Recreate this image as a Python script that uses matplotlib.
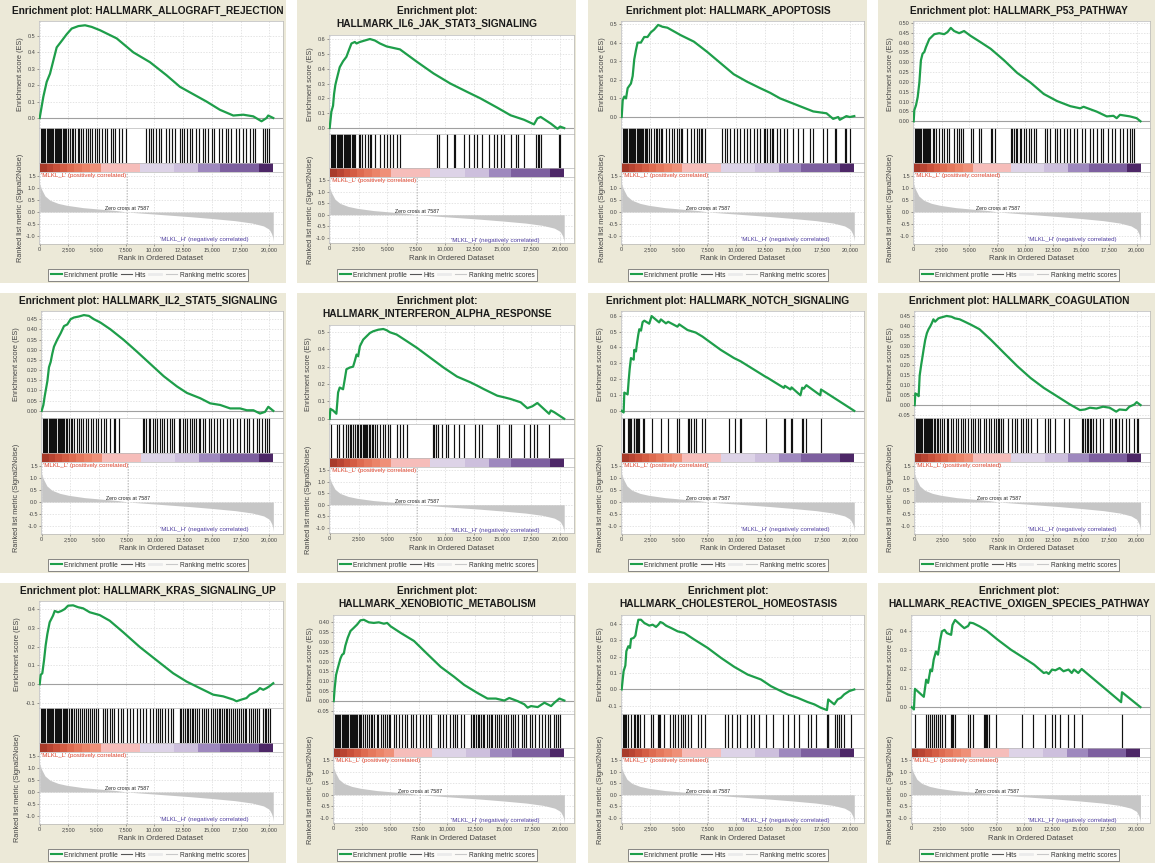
import matplotlib
matplotlib.use('Agg')
import matplotlib.pyplot as plt
from matplotlib.patches import Rectangle
from matplotlib.lines import Line2D
from matplotlib.ticker import MultipleLocator, FormatStrFormatter, FuncFormatter, FixedLocator

plt.rcParams['font.family'] = ['Liberation Sans', 'DejaVu Sans']
plt.rcParams['axes.unicode_minus'] = False

# ---------------- data ----------------
N_GENES = 20350
ZERO_CROSS = 7587
X_TICKS = [0, 2500, 5000, 7500, 10000, 12500, 15000, 17500, 20000]
METRIC_TICKS = [-1.0, -0.5, 0.0, 0.5, 1.0, 1.5]

METRIC_RANK = [0, 50, 170, 460, 900, 1600, 2350, 3800, 5250, 6700, 7587, 9000, 11000,
               13000, 15000, 17000, 18500, 19500, 20000, 20200, 20300, 20350]
METRIC_VALUE = [1.2, 1.1, 0.94, 0.67, 0.49, 0.36, 0.28, 0.18, 0.12, 0.06, 0.0, -0.05, -0.12,
                -0.19, -0.27, -0.36, -0.46, -0.58, -0.72, -0.9, -1.05, -1.22]

CBAR_EDGES = [0, 600, 1200, 1800, 2400, 3000, 3700, 4400, 5300, 8700, 11700, 13800, 15700, 19100, 20350]
CBAR_COLORS = ['#A83A2A', '#B94432', '#C9503A', '#D45D44', '#DE6B50', '#E5785C', '#EB8468',
               '#EF9078', '#F6BDBA', '#DDD3E7', '#CDBFDD', '#9E88BE', '#7D5F9F', '#4D2767']

TITLES = ['HALLMARK_ALLOGRAFT_REJECTION', 'HALLMARK_IL6_JAK_STAT3_SIGNALING', 'HALLMARK_APOPTOSIS',
          'HALLMARK_P53_PATHWAY', 'HALLMARK_IL2_STAT5_SIGNALING', 'HALLMARK_INTERFERON_ALPHA_RESPONSE',
          'HALLMARK_NOTCH_SIGNALING', 'HALLMARK_COAGULATION', 'HALLMARK_KRAS_SIGNALING_UP',
          'HALLMARK_XENOBIOTIC_METABOLISM', 'HALLMARK_CHOLESTEROL_HOMEOSTASIS',
          'HALLMARK_REACTIVE_OXIGEN_SPECIES_PATHWAY']

ES_RANK_ALLOGRAFT = [0, 320, 610, 900, 1190, 1480, 1920, 2350, 2790, 3370, 3950, 4530, 5250, 6710, 8160,
                     9610, 11060, 12220, 13380, 14540, 15700, 16870, 17740, 18610, 19330, 19770, 19910, 20350]
ES_ALLOGRAFT = [0, 0.13, 0.22, 0.27, 0.35, 0.43, 0.47, 0.51, 0.545, 0.56, 0.565, 0.555, 0.535, 0.485, 0.40,
                0.34, 0.26, 0.19, 0.145, 0.10, 0.05, 0.015, 0.02, 0.01, -0.02, 0.0, 0.015, 0.0]
HITS_ALLOGRAFT = [100, 200, 300, 400, 500, 600, 700, 800, 900, 1000, 1100, 1200, 1300, 1400, 1500, 1600,
                  1700, 1800, 1900, 2000, 2100, 2200, 2300, 2500, 2600, 2800, 2900, 3100, 3300, 3400, 3600,
                  3800, 4000, 4200, 4400, 4600, 4800, 5000, 5200, 5400, 5700, 5900, 6200, 6400, 6600, 6900,
                  7200, 7500, 9300, 9500, 9700, 9900, 10100, 10400, 10600, 11000, 11300, 11500, 11800,
                  12200, 12400, 12600, 12800, 13100, 13300, 13600, 13900, 14200, 14400, 14700, 15000,
                  15200, 15600, 15900, 16200, 16400, 16700, 17100, 17400, 17700, 18000, 18300, 18600,
                  18800, 19500, 19600, 19800, 20000]

ES_RANK_IL6 = [0, 145, 290, 380, 490, 580, 870, 1160, 1450, 1690, 1890, 2180, 2330, 2620, 3050, 3490, 3920,
               4360, 4940, 5520, 6100, 7560, 9010, 10470, 11920, 13080, 14530, 15700, 16860, 17730, 18020,
               18310, 19190, 19770, 20000, 20350]
ES_IL6 = [0, 0.11, 0.15, 0.23, 0.29, 0.32, 0.41, 0.45, 0.48, 0.53, 0.57, 0.58, 0.57, 0.58, 0.59, 0.60, 0.59,
          0.57, 0.55, 0.54, 0.53, 0.447, 0.368, 0.30, 0.244, 0.20, 0.138, 0.086, 0.056, 0.025, 0.065,
          0.075, 0.03, -0.005, 0.01, 0.0]
HITS_IL6 = [100, 200, 300, 400, 500, 600, 700, 800, 900, 1000, 1100, 1200, 1300, 1400, 1500, 1600, 1700,
            1800, 1900, 2000, 2100, 2200, 2500, 2600, 2800, 3050, 3300, 3500, 3600, 3900, 4400, 4700, 5000,
            5200, 5500, 5800, 6100, 9300, 9500, 10200, 10750, 10900, 11650, 12050, 12500, 12800, 13200,
            13800, 14250, 14550, 14850, 15100, 15700, 16150, 16300, 16850, 17900, 18050, 18200, 18350,
            19900, 20000]

ES_RANK_APOPTOSIS = [0, 90, 230, 380, 520, 810, 960, 1100, 1250, 1390, 1680, 1970, 2260, 2550, 2840, 3190,
                     3570, 4000, 4580, 5160, 6320, 7480, 8640, 9800, 10960, 12120, 12990, 13860, 15310,
                     16760, 17920, 18500, 18940, 19080, 19370, 19660, 19950, 20350]
ES_APOPTOSIS = [0, 0.09, 0.11, 0.10, 0.155, 0.18, 0.22, 0.31, 0.36, 0.40, 0.40, 0.43, 0.43, 0.455, 0.47,
                0.495, 0.485, 0.48, 0.46, 0.44, 0.405, 0.35, 0.29, 0.23, 0.19, 0.155, 0.13, 0.10, 0.065,
                0.03, 0.02, -0.01, 0.0, -0.015, -0.005, 0.005, 0.0, 0.005]
HITS_APOPTOSIS = [100, 200, 300, 400, 500, 600, 700, 800, 900, 1000, 1100, 1200, 1300, 1400, 1500, 1600,
                  1700, 1800, 1900, 2000, 2100, 2200, 2410, 2550, 2840, 2990, 3130, 3280, 3420, 3570, 3860,
                  4150, 4440, 4580, 4870, 5020, 5160, 5310, 5740, 6030, 6320, 6610, 6760, 6900, 7050, 7250,
                  8790, 9080, 9220, 9510, 9800, 10090, 10380, 10670, 10960, 11250, 11540, 11830, 12120,
                  12410, 12560, 12700, 12990, 13140, 13280, 13570, 13860, 14210, 14440, 15020, 15460,
                  15890, 16470, 16760, 17630, 17920, 18650, 18790, 19520, 19660, 19950]

ES_RANK_P53 = [0, 60, 210, 360, 510, 650, 800, 950, 1100, 1400, 1850, 2290, 2740, 3040, 3330, 3630, 4080,
               4520, 5120, 6010, 6900, 8090, 9290, 10480, 11670, 12860, 14050, 14940, 15240, 16430, 17320,
               17920, 18210, 18510, 19400, 20000, 20350]
ES_P53 = [0, 0.057, 0.082, 0.123, 0.197, 0.31, 0.344, 0.352, 0.377, 0.418, 0.443, 0.448, 0.443, 0.454,
          0.475, 0.459, 0.448, 0.459, 0.434, 0.402, 0.369, 0.311, 0.246, 0.197, 0.139, 0.103, 0.077, 0.066,
          0.074, 0.049, 0.025, 0.028, 0.016, 0.033, 0.025, 0.016, 0.0]
HITS_P53 = [100, 200, 300, 400, 500, 600, 700, 800, 900, 1000, 1100, 1200, 1300, 1400, 1500, 1700, 1850,
            1990, 2290, 2500, 2740, 2980, 3180, 3630, 3870, 4080, 4230, 4460, 5120, 5360, 5860, 6010, 6900,
            7050, 7260, 8690, 8840, 8990, 9140, 9290, 9520, 9640, 9880, 10120, 10330, 10540, 10770,
            11010, 11810, 11960, 12260, 12710, 12860, 13150, 13450, 13750, 14050, 14340, 14640, 15090,
            15390, 15830, 16130, 16430, 16790, 17020, 17470, 17770, 18060, 18510, 18810, 19110, 19400,
            19550, 19760]

ES_RANK_IL2 = [0, 150, 260, 500, 640, 790, 930, 1080, 1370, 1660, 1960, 2250, 2540, 2830, 3270, 3710, 4150,
               4580, 5170, 6040, 7210, 8380, 9550, 10720, 11880, 12760, 13930, 14800, 15680, 16560, 17430,
               18020, 18600, 19180, 19620, 19910, 20350]
ES_IL2 = [0, 0.029, 0.07, 0.146, 0.214, 0.24, 0.28, 0.315, 0.35, 0.38, 0.416, 0.424, 0.45, 0.458, 0.463,
          0.47, 0.466, 0.45, 0.433, 0.40, 0.348, 0.29, 0.23, 0.17, 0.12, 0.088, 0.062, 0.037, 0.029, 0.012,
          0.012, 0.003, 0.003, -0.013, -0.005, 0.02, 0.0]
HITS_IL2 = [100, 200, 300, 400, 500, 600, 700, 800, 900, 1000, 1100, 1200, 1300, 1400, 1500, 1600, 1700,
            1800, 1900, 2000, 2100, 2200, 2390, 2540, 2690, 2830, 3070, 3270, 3420, 3650, 3850, 4060, 4290,
            4530, 4730, 4930, 5170, 5460, 5690, 6040, 6330, 6480, 6770, 8910, 9020, 9200, 9400, 9550,
            9780, 9990, 10130, 10370, 10570, 10770, 11010, 11240, 11450, 11590, 12030, 12180, 12410,
            12610, 12760, 12990, 13200, 13340, 13580, 13780, 13930, 14160, 14370, 14660, 14860, 15100,
            15390, 15680, 15970, 16260, 16560, 16850, 17140, 17430, 17730, 18020, 18250, 18600, 18890,
            19130, 19330, 19620, 19770, 20000]

ES_RANK_IFNA = [0, 60, 290, 580, 730, 870, 1160, 1310, 1450, 1740, 2030, 2180, 2330, 2470, 2620, 2910, 3200,
                3490, 3780, 4220, 4650, 4940, 5230, 5810, 6690, 7560, 8720, 9880, 11050, 12210, 12940,
                13370, 14540, 15120, 15700, 16570, 17150, 17590, 18020, 19040, 19190, 19480, 20350]
ES_IFNA = [0, 0.057, 0.048, 0.029, 0.152, 0.18, 0.17, 0.228, 0.285, 0.295, 0.30, 0.333, 0.37, 0.36, 0.418,
           0.456, 0.475, 0.494, 0.504, 0.513, 0.517, 0.51, 0.498, 0.485, 0.447, 0.409, 0.352, 0.295, 0.243,
           0.21, 0.186, 0.171, 0.133, 0.124, 0.114, 0.095, 0.061, 0.072, 0.091, 0.029, 0.048, 0.038, 0.0]
HITS_IFNA = [150, 670, 780, 1160, 1400, 1600, 1740, 1890, 2030, 2180, 2330, 2470, 2620, 2700, 2850, 2970,
             3050, 3140, 3260, 3370, 3490, 3630, 3780, 3920, 4130, 4360, 4590, 4800, 5030, 5230, 5810,
             6100, 6400, 6690, 8950, 9070, 9190, 9360, 9740, 10120, 10230, 10760, 11190, 11630, 12590,
             12940, 13230, 14540, 14680, 15550, 15760, 16860, 17380, 17730, 18020, 19040]

ES_RANK_NOTCH = [0, 170, 230, 520, 610, 700, 810, 1050, 1100, 1250, 1340, 1450, 1540, 1690, 1830, 1980,
                 2410, 2620, 3280, 3430, 3870, 4070, 4880, 5030, 5760, 6480, 7060, 8660, 9830, 10410,
                 12590, 12730, 14190, 14270, 14770, 14860, 15640, 15790, 15930, 16160, 17380, 17440, 20350]
ES_NOTCH = [0, -0.01, 0.115, 0.104, 0.19, 0.265, 0.333, 0.323, 0.385, 0.375, 0.427, 0.48, 0.515, 0.506,
            0.56, 0.569, 0.55, 0.598, 0.558, 0.577, 0.552, 0.562, 0.531, 0.546, 0.51, 0.494, 0.469, 0.385,
            0.333, 0.3125, 0.215, 0.21, 0.145, 0.158, 0.135, 0.148, 0.098, 0.146, 0.14, 0.162, 0.098,
            0.135, 0.0]
HITS_NOTCH = [90, 230, 520, 610, 730, 810, 1050, 1100, 1250, 1340, 1450, 1540, 1830, 1980, 2620, 3430,
              4070, 4880, 5030, 5760, 5900, 6050, 6340, 6480, 7060, 7270, 9390, 9880, 10350, 10410, 12590,
              14190, 14270, 14770, 14860, 15790, 15870, 16160, 17440]

ES_RANK_COAG = [0, 60, 210, 360, 450, 590, 710, 800, 950, 1100, 1250, 1390, 1540, 1690, 1840, 2140, 2430,
                2880, 3320, 3620, 4060, 4510, 5100, 5840, 6880, 8070, 9260, 10440, 11630, 12820, 14000,
                14890, 15340, 15780, 16380, 16970, 17560, 18160, 18450, 19050, 19340, 19790, 20000, 20350]
ES_COAG = [0, 0.059, 0.054, 0.045, 0.149, 0.204, 0.246, 0.279, 0.329, 0.363, 0.383, 0.396, 0.413, 0.433,
           0.421, 0.438, 0.443, 0.45, 0.446, 0.438, 0.433, 0.421, 0.405, 0.383, 0.329, 0.262, 0.196, 0.137,
           0.087, 0.045, 0.003, -0.025, -0.022, -0.013, -0.017, -0.008, -0.013, -0.033, -0.022, -0.025,
           -0.008, 0.003, 0.015, 0.0]
HITS_COAG = [100, 200, 300, 400, 500, 600, 700, 800, 900, 1000, 1100, 1200, 1300, 1400, 1500, 1600, 1700,
             1840, 1990, 2140, 2280, 2490, 2670, 2880, 3030, 3260, 3470, 3680, 3920, 4150, 4360, 4510,
             4810, 5040, 5250, 5460, 5700, 5930, 6230, 6440, 6740, 6880, 7180, 7330, 7480, 7620, 7770,
             7920, 8370, 8810, 9020, 9260, 9550, 9790, 10000, 10210, 10440, 11040, 11780, 11990, 12220,
             12670, 13410, 13860, 15040, 15190, 15340, 15490, 15630, 15780, 15930, 16080, 16380, 16680,
             16970, 17560, 17800, 18010, 18160, 18450, 18690, 19050, 19340, 19790, 20000, 20090]

ES_RANK_KRAS = [0, 90, 230, 380, 520, 670, 870, 1160, 1310, 1600, 1890, 2180, 2470, 2910, 3340, 3780, 4360,
                5230, 6100, 7270, 8720, 10170, 11630, 12790, 13950, 15120, 15990, 16860, 17150, 17590,
                18020, 18310, 18900, 19190, 19480, 19770, 20000, 20350]
ES_KRAS = [0, 0.05, 0.058, 0.128, 0.207, 0.268, 0.33, 0.365, 0.39, 0.383, 0.39, 0.40, 0.418, 0.42, 0.41,
           0.404, 0.383, 0.368, 0.338, 0.277, 0.198, 0.128, 0.058, 0.014, -0.021, -0.056, -0.065, -0.082,
           -0.091, -0.082, -0.074, -0.056, -0.039, -0.021, -0.03, -0.021, -0.012, 0.005]
HITS_KRAS = [100, 200, 300, 400, 500, 600, 700, 800, 900, 1000, 1100, 1200, 1300, 1400, 1500, 1600, 1700,
             1800, 1900, 2000, 2100, 2200, 2300, 2400, 2550, 2700, 2850, 3000, 3200, 3350, 3500, 3700, 3850,
             4000, 4200, 4400, 4550, 4750, 4900, 5100, 5500, 5700, 5900, 6100, 6300, 6500, 6800, 7100,
             7300, 7600, 7900, 8100, 8450, 8700, 9000, 9300, 9600, 9900, 10100, 10300, 10500, 10700,
             10900, 11200, 11400, 11600, 12200, 12350, 12500, 12650, 12800, 12950, 13100, 13250, 13400,
             13550, 13700, 13900, 14100, 14300, 14500, 14700, 14900, 15100, 15300, 15450, 15600, 15750,
             15900, 16050, 16200, 16350, 16500, 16700, 16850, 17000, 17200, 17350, 17500, 17700, 17850,
             18000, 18200, 18400, 18550, 18750, 18900, 19100, 19450, 19600, 19750, 19900, 20100]

ES_RANK_XENO = [0, 90, 210, 350, 590, 740, 890, 1030, 1240, 1480, 1770, 2070, 2360, 2660, 3100, 3540, 3980,
                4430, 4720, 5020, 5900, 7080, 8260, 9440, 10620, 11510, 12690, 13570, 14310, 15050, 15490,
                16230, 16820, 17110, 17410, 18000, 18590, 19180, 19470, 19910, 20350]
ES_XENO = [0, 0.066, 0.132, 0.164, 0.214, 0.234, 0.24, 0.28, 0.32, 0.354, 0.37, 0.387, 0.408, 0.411, 0.398,
           0.395, 0.398, 0.391, 0.395, 0.378, 0.345, 0.304, 0.238, 0.173, 0.123, 0.082, 0.041, 0.013, 0.013,
           0.003, 0.016, 0.0, -0.016, -0.033, -0.025, -0.03, -0.008, -0.025, -0.008, 0.013, 0.003]
HITS_XENO = [100, 200, 300, 400, 500, 600, 700, 800, 900, 1000, 1100, 1200, 1300, 1400, 1500, 1600, 1700,
             1800, 1900, 2000, 2100, 2200, 2300, 2400, 2600, 2750, 2900, 3100, 3250, 3400, 3600, 3800,
             3950, 4150, 4350, 4500, 4700, 4850, 5000, 5300, 5500, 5800, 6000, 6300, 6500, 6800, 7000,
             7300, 7600, 7900, 8100, 8400, 8600, 9200, 9400, 9600, 9900, 10300, 10500, 10700, 10900,
             11200, 11500, 12100, 12250, 12400, 12550, 12700, 12850, 13000, 13150, 13300, 13500, 13700,
             13850, 14000, 14200, 14400, 14600, 14800, 15000, 15200, 15400, 15600, 15800, 16000, 16300,
             16600, 16800, 17000, 17300, 17500, 17800, 18100, 18400, 18600, 18900, 19100, 19400, 19600,
             19800, 20000]

ES_RANK_CHOL = [0, 90, 170, 320, 410, 580, 730, 820, 1050, 1200, 1340, 1460, 1690, 1980, 2420, 2710, 3000,
                3210, 3380, 3590, 3880, 4310, 4900, 5480, 6350, 7520, 8690, 9850, 11020, 12180, 13060,
                13930, 14520, 15390, 16270, 16850, 17430, 17960, 18070, 18600, 18890, 19180, 19470, 19910,
                20350]
ES_CHOL = [0, 0.061, 0.112, 0.146, 0.234, 0.264, 0.254, 0.309, 0.315, 0.329, 0.386, 0.426, 0.426, 0.406,
           0.39, 0.396, 0.382, 0.396, 0.412, 0.406, 0.39, 0.376, 0.355, 0.345, 0.305, 0.254, 0.193, 0.138,
           0.091, 0.061, 0.02, -0.01, -0.03, -0.051, -0.077, -0.091, -0.112, -0.126, -0.061, -0.091,
           -0.061, -0.051, -0.03, -0.01, 0.0]
HITS_CHOL = [90, 170, 320, 410, 580, 820, 1050, 1200, 1340, 1460, 1630, 1980, 2570, 2710, 3210, 3290, 3380,
             3730, 4260, 4460, 4690, 4900, 5190, 5330, 5540, 5770, 6060, 6700, 6940, 7290, 9040, 9270,
             9620, 10090, 10380, 10960, 11310, 11600, 12040, 12620, 13210, 14080, 14520, 15100, 15540,
             16270, 16560, 17000, 17960, 18010, 18070, 18660, 18830, 19030, 19180, 19470, 20060]

ES_RANK_ROS = [0, 200, 290, 1080, 1290, 1460, 1670, 1810, 1960, 2160, 2340, 2540, 2690, 2920, 3130, 3510,
               3630, 3860, 4440, 4680, 5030, 5180, 5470, 6050, 6640, 7660, 8830, 10000, 10880, 11750, 11990,
               12190, 12490, 12780, 13160, 13510, 13950, 14240, 14440, 14820, 15120, 18630, 18710, 20350]
ES_ROS = [0, -0.012, 0.096, 0.054, 0.144, 0.127, 0.197, 0.188, 0.249, 0.292, 0.275, 0.353, 0.397, 0.405,
          0.388, 0.379, 0.431, 0.457, 0.426, 0.414, 0.426, 0.443, 0.44, 0.423, 0.402, 0.353, 0.301, 0.257,
          0.223, 0.179, 0.183, 0.174, 0.197, 0.193, 0.205, 0.188, 0.197, 0.179, 0.197, 0.179, 0.2, 0.026,
          0.078, 0.0]
HITS_ROS = [290, 1290, 1460, 1670, 1810, 1960, 2160, 2340, 2540, 2690, 2920, 3510, 3630, 3710, 3860, 5030,
            5180, 5470, 6430, 6550, 6640, 6730, 6840, 7510, 9850, 10820, 11900, 12490, 12780, 13160, 13950,
            14440, 15120, 18710]

SERIES = [(ES_RANK_ALLOGRAFT, ES_ALLOGRAFT, HITS_ALLOGRAFT), (ES_RANK_IL6, ES_IL6, HITS_IL6),
          (ES_RANK_APOPTOSIS, ES_APOPTOSIS, HITS_APOPTOSIS), (ES_RANK_P53, ES_P53, HITS_P53),
          (ES_RANK_IL2, ES_IL2, HITS_IL2), (ES_RANK_IFNA, ES_IFNA, HITS_IFNA),
          (ES_RANK_NOTCH, ES_NOTCH, HITS_NOTCH), (ES_RANK_COAG, ES_COAG, HITS_COAG),
          (ES_RANK_KRAS, ES_KRAS, HITS_KRAS), (ES_RANK_XENO, ES_XENO, HITS_XENO),
          (ES_RANK_CHOL, ES_CHOL, HITS_CHOL), (ES_RANK_ROS, ES_ROS, HITS_ROS)]

# ---------------- layout (pixels) ----------------
W, H = 1155, 863
BEIGE = '#ECE9D8'
GREEN = '#1E9E4A'
COL_BOUNDS = [(0, 286), (297, 576), (588, 867), (878, 1160)]
COL_CENTER = [148, 437, 728, 1019]
ROW_TOPS = [0, 290, 580]
# per panel: left, right, two-line title, ES ylim, tick step, decimals, ylabel offset
LAYOUT = [
    dict(left=39, right=283, two=False, ylim=(-0.061, 0.591), step=0.1, dec=1, off=18),
    dict(left=329, right=574, two=True, ylim=(-0.04, 0.627), step=0.1, dec=1, off=19),
    dict(left=621, right=864, two=False, ylim=(-0.059, 0.516), step=0.1, dec=1, off=19),
    dict(left=913, right=1150, two=False, ylim=(-0.034, 0.51), step=0.05, dec=2, off=23),
    dict(left=41, right=283, two=False, ylim=(-0.035, 0.49), step=0.05, dec=2, off=24),
    dict(left=329, right=574, two=True, ylim=(-0.03, 0.54), step=0.1, dec=1, off=20),
    dict(left=621, right=864, two=False, ylim=(-0.045, 0.63), step=0.1, dec=1, off=20),
    dict(left=914, right=1150, two=False, ylim=(-0.065, 0.475), step=0.05, dec=2, off=24),
    dict(left=39, right=283, two=False, ylim=(-0.127, 0.443), step=0.1, dec=1, off=21),
    dict(left=333, right=574, two=True, ylim=(-0.065, 0.435), step=0.05, dec=2, off=23),
    dict(left=621, right=864, two=True, ylim=(-0.15, 0.455), step=0.1, dec=1, off=21),
    dict(left=911, right=1150, two=True, ylim=(-0.036, 0.483), step=0.1, dec=1, off=21),
]
V1 = dict(es_top=21, es_bot=128, hit_bot=163, cb_bot=172, m_bot=244, mlim=(-1.333, 1.667))
V2 = dict(es_top=35, es_bot=134, hit_bot=168, cb_bot=177, m_bot=243, mlim=(-1.22, 1.63))
XLIM = (-60, 21200)

fig = plt.figure(figsize=(W / 100, H / 100), dpi=100)
fig.patch.set_facecolor('white')


def ax_px(left, top, width, height):
    return fig.add_axes([left / W, 1 - (top + height) / H, width / W, height / H])


def style(ax):
    ax.set_facecolor('white')
    for s in ax.spines.values():
        s.set_color('#B8B8B8')
        s.set_linewidth(0.5)
    ax.tick_params(labelsize=4, colors='#555555', labelcolor='#444444', length=1.5, width=0.4, pad=0.8)


GRID = dict(color='#D9D9D9', linestyle=(0, (2, 2)), linewidth=0.5)

for i, (ranks, es, hits) in enumerate(SERIES):
    L = LAYOUT[i]
    row, col = i // 4, i % 4
    r0 = ROW_TOPS[row]
    v = V2 if L['two'] else V1
    c0, c1 = COL_BOUNDS[col]
    top = 0 if row == 0 else r0 + 3
    fig.add_artist(Rectangle((c0 / W, 1 - (r0 + 283) / H), (c1 - c0) / W, (r0 + 283 - top) / H,
                             transform=fig.transFigure, facecolor=BEIGE, edgecolor='none', zorder=-10))
    cx = COL_CENTER[col]
    # titles
    if L['two']:
        fig.text(cx / W, 1 - (r0 + 11) / H, 'Enrichment plot:', ha='center', va='center',
                 fontsize=7.3, fontweight='bold', color='#1A1A1A')
        fig.text(cx / W, 1 - (r0 + 24) / H, TITLES[i], ha='center', va='center',
                 fontsize=7.3, fontweight='bold', color='#1A1A1A')
    else:
        fig.text(cx / W, 1 - (r0 + 11) / H, 'Enrichment plot: ' + TITLES[i], ha='center', va='center',
                 fontsize=7.3, fontweight='bold', color='#1A1A1A')

    left, right = L['left'], L['right']
    w = right - left
    ax_es = ax_px(left, r0 + v['es_top'], w, v['es_bot'] - v['es_top'])
    ax_hit = ax_px(left, r0 + v['es_bot'], w, v['hit_bot'] - v['es_bot'])
    ax_cb = ax_px(left, r0 + v['hit_bot'], w, v['cb_bot'] - v['hit_bot'])
    ax_m = ax_px(left, r0 + v['cb_bot'], w, v['m_bot'] - v['cb_bot'])
    for a in (ax_es, ax_hit, ax_cb, ax_m):
        style(a)
        a.set_xlim(*XLIM)

    # ES panel
    ax_es.set_ylim(*L['ylim'])
    ax_es.yaxis.set_major_locator(MultipleLocator(L['step']))
    ax_es.yaxis.set_major_formatter(FormatStrFormatter('%.' + str(L['dec']) + 'f'))
    ax_es.xaxis.set_major_locator(FixedLocator(X_TICKS))
    ax_es.tick_params(axis='x', length=0, labelbottom=False)
    ax_es.grid(True, **GRID)
    ax_es.set_axisbelow(True)
    ax_es.axhline(0, color='#A0A0A0', lw=0.8, zorder=2)
    ax_es.plot(ranks, es, color=GREEN, lw=1.6, zorder=3, solid_joinstyle='round')

    # hits
    ax_hit.set_ylim(0, 1)
    ax_hit.vlines(hits, 0, 1, color='#111111', lw=0.85)
    ax_hit.set_xticks([])
    ax_hit.set_yticks([])

    # colour bar
    ax_cb.set_ylim(0, 1)
    for j, colr in enumerate(CBAR_COLORS):
        ax_cb.axvspan(CBAR_EDGES[j], CBAR_EDGES[j + 1], color=colr, lw=0)
    ax_cb.set_xticks([])
    ax_cb.set_yticks([])

    # ranked metric
    ax_m.set_ylim(*v['mlim'])
    ax_m.yaxis.set_major_locator(FixedLocator(METRIC_TICKS))
    ax_m.yaxis.set_major_formatter(FormatStrFormatter('%.1f'))
    ax_m.xaxis.set_major_locator(FixedLocator(X_TICKS))
    ax_m.xaxis.set_major_formatter(FuncFormatter(lambda val, pos: '{:,}'.format(int(val))))
    ax_m.grid(True, **GRID)
    ax_m.set_axisbelow(True)
    ax_m.fill_between(METRIC_RANK, 0, METRIC_VALUE, color='#C6C6C6', lw=0, zorder=2)
    ax_m.axvline(ZERO_CROSS, color='#A8A8A8', lw=0.5, linestyle=(0, (2, 2)), zorder=3)
    ax_m.text(ZERO_CROSS, 0.05, 'Zero cross at 7587', ha='center', va='bottom', fontsize=3.8,
              color='#222222', zorder=4)
    ax_m.text(150, v['mlim'][1] - 0.03, "'MLKL_L' (positively correlated)", ha='left', va='top',
              fontsize=4.4, color='#E0452E', zorder=4)
    ax_m.text(18200, -1.13, "'MLKL_H' (negatively correlated)", ha='right', va='center',
              fontsize=4.4, color='#4B3A9E', zorder=4)

    # axis labels
    fig.text(((left + right) / 2) / W, 1 - (r0 + 258) / H, 'Rank in Ordered Dataset', ha='center',
             va='center', fontsize=5.5, color='#444444')
    fig.text((left - L['off']) / W, 1 - (r0 + (v['es_top'] + v['es_bot']) / 2) / H, 'Enrichment score (ES)',
             ha='center', va='center', rotation=90, fontsize=5.3, color='#444444')
    fig.text((left - L['off']) / W, 1 - (r0 + (v['cb_bot'] + v['m_bot']) / 2) / H,
             'Ranked list metric (Signal2Noise)', ha='center', va='center', rotation=90, fontsize=5.3,
             color='#444444')

    # legend
    handles = [Line2D([], [], color=GREEN, lw=1.5), Line2D([], [], color='#555555', lw=0.8),
               Line2D([], [], color='#EBEBEB', lw=2.0), Line2D([], [], color='#C8C8C8', lw=0.8)]
    labels = ['Enrichment profile', 'Hits', '', 'Ranking metric scores']
    leg = fig.legend(handles, labels, loc='upper center', bbox_to_anchor=(cx / W, 1 - (r0 + 269) / H),
                     ncol=4, fontsize=4.8, frameon=True, fancybox=False, edgecolor='#555555',
                     borderpad=0.4, handlelength=1.7, handletextpad=0.35, columnspacing=0.45,
                     borderaxespad=0)
    leg.get_frame().set_linewidth(0.6)
    for t in leg.get_texts():
        t.set_color('#333333')

fig.savefig('out.png', dpi=100, facecolor='white')
